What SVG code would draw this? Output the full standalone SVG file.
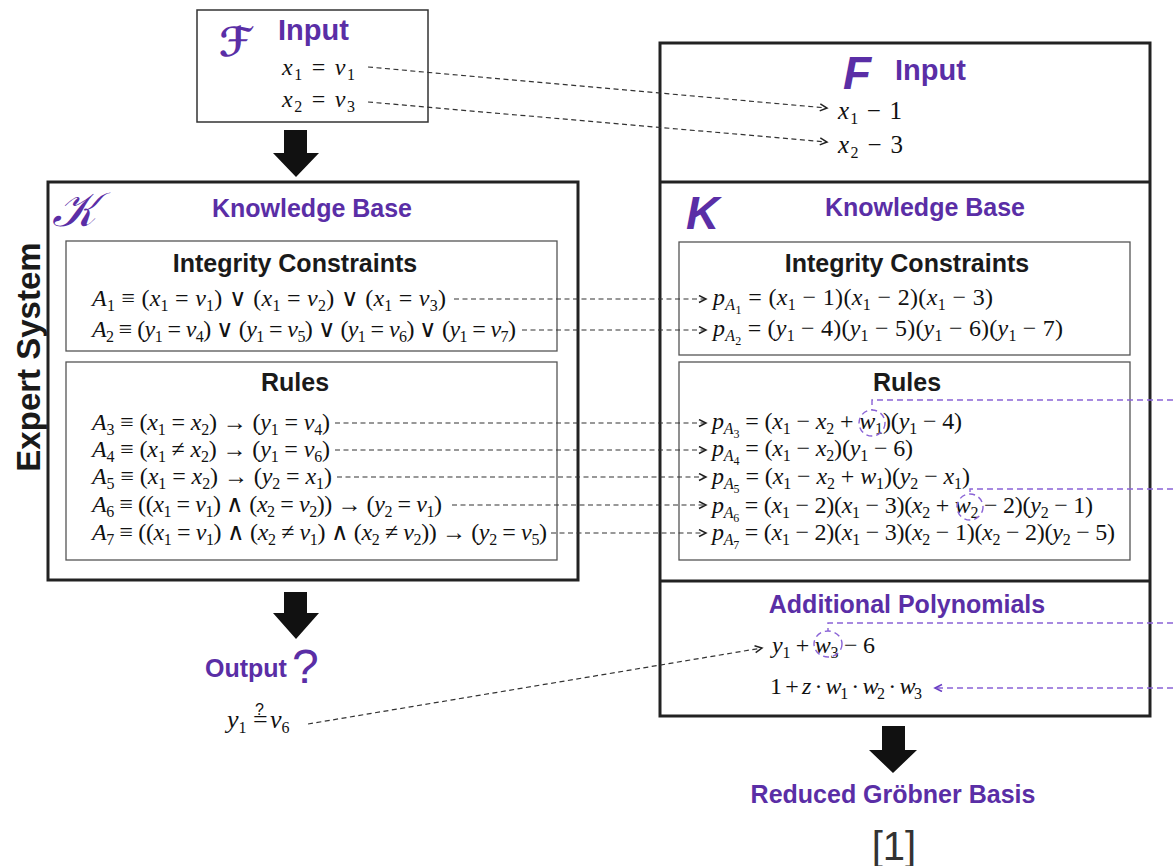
<svg xmlns="http://www.w3.org/2000/svg" width="1173" height="866" viewBox="0 0 1173 866">
<defs>
<style>
.m{font-family:"Liberation Serif",serif;font-size:24px;fill:#111}
.i{font-style:italic}
.s{font-size:16px;baseline-shift:-5px}
.ss{font-size:12px;baseline-shift:-9px}
.t{font-family:"Liberation Sans",Arial,sans-serif;font-weight:bold;font-size:25px;fill:#5a2ea6}
.h{font-family:"Liberation Sans",Arial,sans-serif;font-weight:bold;font-size:25px;fill:#1a1a1a}
.big{fill:#fff;stroke:#222;stroke-width:3}
.thin{fill:#fff;stroke:#555;stroke-width:1.3}
.dl{fill:none;stroke:#333;stroke-width:1.2;stroke-dasharray:5 3.5}
.pl{fill:none;stroke:#8a63d6;stroke-width:1.4;stroke-dasharray:6 4}
.blk{fill:#111}
</style>
<marker id="ah" markerUnits="userSpaceOnUse" markerWidth="10" markerHeight="10" refX="8" refY="4" orient="auto">
<path d="M1,0.5 L8,4 L1,7.5" fill="none" stroke="#222" stroke-width="1.5"/>
</marker>
<marker id="ahp" markerUnits="userSpaceOnUse" markerWidth="10" markerHeight="10" refX="8" refY="4" orient="auto">
<path d="M1,0.5 L8,4 L1,7.5" fill="none" stroke="#6a3fc4" stroke-width="1.6"/>
</marker>
</defs>
<rect width="1173" height="866" fill="#fff"/>

<g id="left-input">
<rect x="197" y="10" width="231" height="112" fill="#fff" stroke="#333" stroke-width="1.5"/>
<text x="219" y="56" font-family="DejaVu Serif,DejaVu Sans,serif" font-style="italic" font-weight="bold" font-size="40" fill="#5a2ea6">ℱ</text>
<text class="t" x="278" y="40" style="font-size:29px">Input</text>
<text class="m" x="282" y="75" textLength="73"><tspan class="i">x</tspan><tspan class="s">1</tspan> = <tspan class="i">v</tspan><tspan class="s">1</tspan></text>
<text class="m" x="282" y="107" textLength="73"><tspan class="i">x</tspan><tspan class="s">2</tspan> = <tspan class="i">v</tspan><tspan class="s">3</tspan></text>
</g>

<g id="arrow-top">
<polygon class="blk" points="284,130 307,130 307,153 319,153 296,177 273,153 284,153"/>
</g>

<g id="expert-label">
<text class="h" transform="translate(40,357) rotate(-90)" text-anchor="middle" style="font-size:33px">Expert System</text>
</g>

<g id="left-kb">
<rect class="big" x="48" y="182" width="530" height="398"/>
<text x="52" y="226" font-family="DejaVu Serif,DejaVu Sans,serif" font-style="italic" font-size="48" fill="#5a2ea6">𝒦</text>
<text class="t" x="312" y="217" text-anchor="middle">Knowledge Base</text>
</g>

<g id="left-ic">
<rect class="thin" x="66" y="241" width="491" height="110"/>
<text class="h" x="295" y="272" text-anchor="middle">Integrity Constraints</text>
<text class="m" x="92" y="306" textLength="354"><tspan class="i">A</tspan><tspan class="s">1</tspan> ≡ (<tspan class="i">x</tspan><tspan class="s">1</tspan> = <tspan class="i">v</tspan><tspan class="s">1</tspan>) ∨ (<tspan class="i">x</tspan><tspan class="s">1</tspan> = <tspan class="i">v</tspan><tspan class="s">2</tspan>) ∨ (<tspan class="i">x</tspan><tspan class="s">1</tspan> = <tspan class="i">v</tspan><tspan class="s">3</tspan>)</text>
<text class="m" x="92" y="337" textLength="424"><tspan class="i">A</tspan><tspan class="s">2</tspan> ≡ (<tspan class="i">y</tspan><tspan class="s">1</tspan> = <tspan class="i">v</tspan><tspan class="s">4</tspan>) ∨ (<tspan class="i">y</tspan><tspan class="s">1</tspan> = <tspan class="i">v</tspan><tspan class="s">5</tspan>) ∨ (<tspan class="i">y</tspan><tspan class="s">1</tspan> = <tspan class="i">v</tspan><tspan class="s">6</tspan>) ∨ (<tspan class="i">y</tspan><tspan class="s">1</tspan> = <tspan class="i">v</tspan><tspan class="s">7</tspan>)</text>
</g>

<g id="left-rules">
<rect class="thin" x="66" y="362" width="491" height="198"/>
<text class="h" x="295" y="391" text-anchor="middle">Rules</text>
<text class="m" x="92" y="430" textLength="238"><tspan class="i">A</tspan><tspan class="s">3</tspan> ≡ (<tspan class="i">x</tspan><tspan class="s">1</tspan> = <tspan class="i">x</tspan><tspan class="s">2</tspan>) → (<tspan class="i">y</tspan><tspan class="s">1</tspan> = <tspan class="i">v</tspan><tspan class="s">4</tspan>)</text>
<text class="m" x="92" y="457" textLength="238"><tspan class="i">A</tspan><tspan class="s">4</tspan> ≡ (<tspan class="i">x</tspan><tspan class="s">1</tspan> ≠ <tspan class="i">x</tspan><tspan class="s">2</tspan>) → (<tspan class="i">y</tspan><tspan class="s">1</tspan> = <tspan class="i">v</tspan><tspan class="s">6</tspan>)</text>
<text class="m" x="92" y="484" textLength="240"><tspan class="i">A</tspan><tspan class="s">5</tspan> ≡ (<tspan class="i">x</tspan><tspan class="s">1</tspan> = <tspan class="i">x</tspan><tspan class="s">2</tspan>) → (<tspan class="i">y</tspan><tspan class="s">2</tspan> = <tspan class="i">x</tspan><tspan class="s">1</tspan>)</text>
<text class="m" x="92" y="512" textLength="350"><tspan class="i">A</tspan><tspan class="s">6</tspan> ≡ ((<tspan class="i">x</tspan><tspan class="s">1</tspan> = <tspan class="i">v</tspan><tspan class="s">1</tspan>) ∧ (<tspan class="i">x</tspan><tspan class="s">2</tspan> = <tspan class="i">v</tspan><tspan class="s">2</tspan>)) → (<tspan class="i">y</tspan><tspan class="s">2</tspan> = <tspan class="i">v</tspan><tspan class="s">1</tspan>)</text>
<text class="m" x="92" y="540" textLength="455"><tspan class="i">A</tspan><tspan class="s">7</tspan> ≡ ((<tspan class="i">x</tspan><tspan class="s">1</tspan> = <tspan class="i">v</tspan><tspan class="s">1</tspan>) ∧ (<tspan class="i">x</tspan><tspan class="s">2</tspan> ≠ <tspan class="i">v</tspan><tspan class="s">1</tspan>) ∧ (<tspan class="i">x</tspan><tspan class="s">2</tspan> ≠ <tspan class="i">v</tspan><tspan class="s">2</tspan>)) → (<tspan class="i">y</tspan><tspan class="s">2</tspan> = <tspan class="i">v</tspan><tspan class="s">5</tspan>)</text>
</g>

<g id="arrow-output">
<polygon class="blk" points="284,592 307,592 307,613 319,613 296,639 273,613 284,613"/>
</g>

<g id="output">
<text class="t" x="205" y="677">Output</text>
<text x="292" y="683" font-family="Liberation Sans,Arial,sans-serif" font-size="48" fill="#5a2ea6">?</text>
<text class="m" x="227" y="728" style="font-size:26px"><tspan class="i">y</tspan><tspan class="s">1</tspan><tspan x="253">=</tspan><tspan x="255" dy="-13" style="font-family:'Liberation Sans',Arial,sans-serif;font-size:16px">?</tspan><tspan x="270" dy="13" class="i">v</tspan><tspan class="s">6</tspan></text>
</g>

<g id="right-system">
<rect class="big" x="660" y="43" width="490" height="673"/>
<line x1="660" y1="182" x2="1150" y2="182" stroke="#222" stroke-width="3"/>
<line x1="660" y1="581" x2="1150" y2="581" stroke="#222" stroke-width="3"/>
</g>

<g id="right-input">
<text x="843" y="89" font-family="Liberation Sans,Arial,sans-serif" font-weight="bold" font-style="italic" font-size="46" fill="#5a2ea6">F</text>
<text class="t" x="895" y="80" style="font-size:29px">Input</text>
<text class="m" x="838" y="119" style="font-size:25px" textLength="64"><tspan class="i">x</tspan><tspan class="s">1</tspan> − 1</text>
<text class="m" x="838" y="153" style="font-size:25px" textLength="65"><tspan class="i">x</tspan><tspan class="s">2</tspan> − 3</text>
</g>

<g id="right-kb">
<text x="686" y="229" font-family="Liberation Sans,Arial,sans-serif" font-weight="bold" font-style="italic" font-size="46" fill="#5a2ea6">K</text>
<text class="t" x="925" y="216" text-anchor="middle">Knowledge Base</text>
</g>

<g id="right-ic">
<rect class="thin" x="679" y="242" width="451" height="113"/>
<text class="h" x="907" y="272" text-anchor="middle">Integrity Constraints</text>
<text class="m" x="713" y="305" textLength="280"><tspan class="i">p</tspan><tspan class="s i">A</tspan><tspan class="ss">1</tspan> = (<tspan class="i">x</tspan><tspan class="s">1</tspan> − 1)(<tspan class="i">x</tspan><tspan class="s">1</tspan> − 2)(<tspan class="i">x</tspan><tspan class="s">1</tspan> − 3)</text>
<text class="m" x="713" y="336" textLength="350"><tspan class="i">p</tspan><tspan class="s i">A</tspan><tspan class="ss">2</tspan> = (<tspan class="i">y</tspan><tspan class="s">1</tspan> − 4)(<tspan class="i">y</tspan><tspan class="s">1</tspan> − 5)(<tspan class="i">y</tspan><tspan class="s">1</tspan> − 6)(<tspan class="i">y</tspan><tspan class="s">1</tspan> − 7)</text>
</g>

<g id="right-rules">
<rect class="thin" x="679" y="362" width="451" height="198"/>
<text class="h" x="907" y="391" text-anchor="middle">Rules</text>
<text class="m" x="712" y="429" textLength="250"><tspan class="i">p</tspan><tspan class="s i">A</tspan><tspan class="ss">3</tspan> = (<tspan class="i">x</tspan><tspan class="s">1</tspan> − <tspan class="i">x</tspan><tspan class="s">2</tspan> + <tspan class="i">w</tspan><tspan class="s">1</tspan>)(<tspan class="i">y</tspan><tspan class="s">1</tspan> − 4)</text>
<text class="m" x="712" y="456" textLength="201"><tspan class="i">p</tspan><tspan class="s i">A</tspan><tspan class="ss">4</tspan> = (<tspan class="i">x</tspan><tspan class="s">1</tspan> − <tspan class="i">x</tspan><tspan class="s">2</tspan>)(<tspan class="i">y</tspan><tspan class="s">1</tspan> − 6)</text>
<text class="m" x="712" y="484" textLength="258"><tspan class="i">p</tspan><tspan class="s i">A</tspan><tspan class="ss">5</tspan> = (<tspan class="i">x</tspan><tspan class="s">1</tspan> − <tspan class="i">x</tspan><tspan class="s">2</tspan> + <tspan class="i">w</tspan><tspan class="s">1</tspan>)(<tspan class="i">y</tspan><tspan class="s">2</tspan> − <tspan class="i">x</tspan><tspan class="s">1</tspan>)</text>
<text class="m" x="712" y="513" textLength="381"><tspan class="i">p</tspan><tspan class="s i">A</tspan><tspan class="ss">6</tspan> = (<tspan class="i">x</tspan><tspan class="s">1</tspan> − 2)(<tspan class="i">x</tspan><tspan class="s">1</tspan> − 3)(<tspan class="i">x</tspan><tspan class="s">2</tspan> + <tspan class="i">w</tspan><tspan class="s">2</tspan> − 2)(<tspan class="i">y</tspan><tspan class="s">2</tspan> − 1)</text>
<text class="m" x="712" y="540" textLength="403"><tspan class="i">p</tspan><tspan class="s i">A</tspan><tspan class="ss">7</tspan> = (<tspan class="i">x</tspan><tspan class="s">1</tspan> − 2)(<tspan class="i">x</tspan><tspan class="s">1</tspan> − 3)(<tspan class="i">x</tspan><tspan class="s">2</tspan> − 1)(<tspan class="i">x</tspan><tspan class="s">2</tspan> − 2)(<tspan class="i">y</tspan><tspan class="s">2</tspan> − 5)</text>
</g>

<g id="right-additional">
<text class="t" x="907" y="613" text-anchor="middle">Additional Polynomials</text>
<text class="m" x="772" y="653" textLength="103"><tspan class="i">y</tspan><tspan class="s">1</tspan> + <tspan class="i">w</tspan><tspan class="s">3</tspan> − 6</text>
<text class="m" x="770" y="694" textLength="152">1 + <tspan class="i">z</tspan> · <tspan class="i">w</tspan><tspan class="s">1</tspan> · <tspan class="i">w</tspan><tspan class="s">2</tspan> · <tspan class="i">w</tspan><tspan class="s">3</tspan></text>
</g>

<g id="arrow-bottom">
<polygon class="blk" points="882,726 905,726 905,750 917,750 893,773 869,750 882,750"/>
</g>

<g id="result">
<text class="t" x="893" y="803" text-anchor="middle">Reduced Gröbner Basis</text>
<text x="894" y="860" text-anchor="middle" font-family="Liberation Sans,Arial,sans-serif" font-size="40" fill="#333">[1]</text>
</g>

<g id="connectors">
<line class="dl" x1="368" y1="67" x2="827" y2="108" marker-end="url(#ah)"/>
<line class="dl" x1="368" y1="102" x2="827" y2="142" marker-end="url(#ah)"/>
<line class="dl" x1="454" y1="299" x2="706" y2="299" marker-end="url(#ah)"/>
<line class="dl" x1="522" y1="330" x2="706" y2="330" marker-end="url(#ah)"/>
<line class="dl" x1="335" y1="423" x2="706" y2="423" marker-end="url(#ah)"/>
<line class="dl" x1="335" y1="450" x2="706" y2="450" marker-end="url(#ah)"/>
<line class="dl" x1="337" y1="477" x2="706" y2="477" marker-end="url(#ah)"/>
<line class="dl" x1="452" y1="505" x2="706" y2="505" marker-end="url(#ah)"/>
<line class="dl" x1="551" y1="533" x2="706" y2="533" marker-end="url(#ah)"/>
<line class="dl" x1="308" y1="724" x2="762" y2="648" marker-end="url(#ah)"/>
<path class="pl" d="M1173,400 H872 V410"/>
<ellipse class="pl" cx="872" cy="423" rx="13" ry="13" stroke-dasharray="4 3"/>
<path class="pl" d="M1173,489 H970 V494"/>
<ellipse class="pl" cx="970" cy="507" rx="13" ry="13" stroke-dasharray="4 3"/>
<path class="pl" d="M1173,623 H828 V631"/>
<ellipse class="pl" cx="828" cy="644" rx="14" ry="13" stroke-dasharray="4 3"/>
<line class="pl" x1="1173" y1="688" x2="935" y2="688" marker-end="url(#ahp)"/>
</g>
</svg>
